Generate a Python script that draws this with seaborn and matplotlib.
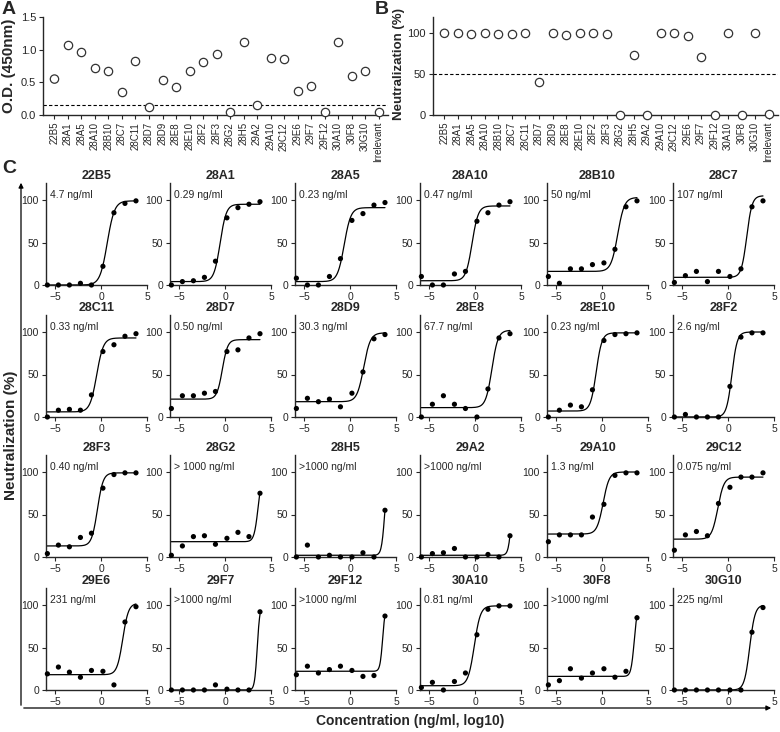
import numpy as np
import pandas as pd
import matplotlib
matplotlib.use('Agg')
import matplotlib.pyplot as plt
from matplotlib.patches import FancyArrowPatch
import seaborn as sns

sns.set_style('ticks')
plt.rcParams['font.family'] = ['Liberation Sans', 'DejaVu Sans']

# panel A / B : screening of all clones
clones = ['22B5', '28A1', '28A5', '28A10', '28B10', '28C7', '28C11', '28D7', '28D9',
          '28E8', '28E10', '28F2', '28F3', '28G2', '28H5', '29A2', '29A10', '29C12',
          '29E6', '29F7', '29F12', '30A10', '30F8', '30G10', 'Irrelevant']
od_values = [0.55, 1.07, 0.97, 0.72, 0.68, 0.35, 0.82, 0.12, 0.54, 0.43, 0.67, 0.81,
             0.94, 0.04, 1.12, 0.16, 0.87, 0.86, 0.36, 0.45, 0.05, 1.11, 0.60, 0.68, 0.04]
neut_values = [100, 100, 99, 100, 99, 99, 100, 41, 100, 98, 100, 100, 99, 0, 73, 0,
               100, 100, 97, 71, 0, 100, 0, 100, 1]
od_cutoff = 0.15
neut_cutoff = 50

# panel C : dose response, log10 concentration
conc_log = [-5.85, -4.65, -3.45, -2.25, -1.05, 0.2, 1.4, 2.6, 3.8]
n22B5 = [0, 0, 0, 2, 0, 22, 85, 96, 99]
n28A1 = [0, 4, 5, 9, 28, 79, 91, 95, 98]
n28A5 = [8, 0, 0, 10, 31, 76, 84, 94, 97]
n28A10 = [10, 0, 0, 13, 16, 75, 85, 94, 98]
n28B10 = [10, 2, 19, 19, 24, 26, 42, 92, 99]
n28C7 = [3, 11, 16, 4, 16, 10, 19, 92, 99]
n28C11 = [0, 8, 9, 8, 26, 77, 85, 95, 98]
n28D7 = [10, 25, 25, 28, 30, 77, 79, 93, 98]
n28D9 = [10, 22, 18, 21, 12, 28, 53, 92, 97]
n28E8 = [0, 15, 25, 15, 10, 0, 33, 93, 98]
n28E10 = [0, 8, 14, 12, 32, 90, 97, 98, 99]
n28F2 = [0, 3, 0, 0, 0, 36, 94, 99, 99]
n28F3 = [4, 14, 12, 23, 28, 81, 97, 99, 99]
n28G2 = [2, 13, 24, 25, 15, 22, 29, 24, 75]
n28H5 = [0, 14, 0, 2, 0, 0, 5, 0, 55]
n29A2 = [0, 4, 5, 10, 0, 0, 3, 0, 25]
n29A10 = [18, 26, 26, 26, 47, 62, 96, 99, 99]
n29C12 = [8, 26, 30, 25, 63, 82, 94, 94, 99]
n29E6 = [19, 27, 21, 15, 23, 22, 6, 80, 98]
n29F7 = [0, 0, 0, 0, 6, 1, 0, 0, 92]
n29F12 = [18, 28, 20, 24, 28, 23, 16, 17, 87]
n30A10 = [3, 9, 0, 10, 20, 65, 95, 99, 99]
n30F8 = [6, 11, 25, 14, 20, 25, 15, 22, 85]
n30G10 = [0, 0, 0, 0, 0, 0, 0, 68, 97]

ec50_labels = ['4.7 ng/ml', '0.29 ng/ml', '0.23 ng/ml', '0.47 ng/ml', '50 ng/ml', '107 ng/ml',
               '0.33 ng/ml', '0.50 ng/ml', '30.3 ng/ml', '67.7 ng/ml', '0.23 ng/ml', '2.6 ng/ml',
               '0.40 ng/ml', '> 1000 ng/ml', '>1000 ng/ml', '>1000 ng/ml', '1.3 ng/ml', '0.075 ng/ml',
               '231 ng/ml', '>1000 ng/ml', '>1000 ng/ml', '0.81 ng/ml', '>1000 ng/ml', '225 ng/ml']

# 4PL fit parameters
fit_bottom = [0, 4, 4, 5, 16, 9, 6, 21, 18, 11, 7, 0, 13, 18, 2, 2, 27, 21, 18, 0, 22, 5, 16, 0]
fit_top = [99, 95, 91, 93, 103, 105, 93, 91, 99, 102, 99, 100, 99, 100, 100, 100, 100, 94,
           102, 100, 100, 99, 100, 100]
fit_logec50 = [0.67, -0.54, -0.64, -0.33, 1.70, 2.03, -0.48, -0.30, 1.48, 1.83, -0.64, 0.41,
               -0.40, 3.6, 3.77, 4.0, 0.11, -1.12, 2.36, 3.5, 3.55, -0.09, 3.5, 2.35]
fit_hill = [1.1, 1.3, 1.2, 1.3, 1.2, 1.5, 1.2, 1.5, 1.2, 1.3, 1.4, 1.5, 1.4, 2.0, 2.5, 2.5,
            1.3, 1.3, 1.4, 3.0, 3.0, 1.3, 2.5, 1.5]

points = [n22B5, n28A1, n28A5, n28A10, n28B10, n28C7, n28C11, n28D7, n28D9, n28E8, n28E10,
          n28F2, n28F3, n28G2, n28H5, n29A2, n29A10, n29C12, n29E6, n29F7, n29F12, n30A10,
          n30F8, n30G10]

W, H = 780, 732
fig = plt.figure(figsize=(W / 100, H / 100), dpi=100)


def px_axes(left, top, width, height):
    return fig.add_axes([left / W, 1 - (top + height) / H, width / W, height / H])


def screen_panel(ax, values, cutoff, ylim, yticks, ticklabels):
    df = pd.DataFrame({'clone': clones, 'value': values})
    sns.stripplot(data=df, x='clone', y='value', jitter=False, ax=ax, color='white',
                  edgecolor='#333333', linewidth=0.9, size=6, clip_on=False, zorder=3)
    ax.collections[0].set_facecolor('none')
    ax.axhline(cutoff, ls=(0, (3, 2)), color='black', lw=0.8)
    ax.set_xlim(-0.85, 24.7)
    ax.set_ylim(*ylim)
    ax.set_yticks(yticks)
    ax.set_yticklabels(ticklabels)
    ax.set_xlabel('')
    ax.set_ylabel('')
    ax.tick_params(axis='x', rotation=90, labelsize=7, length=3, width=0.8, pad=2)
    ax.tick_params(axis='y', labelsize=8, length=3, width=0.8, pad=2)
    for s in ['left', 'bottom']:
        ax.spines[s].set_linewidth(1.0)
    sns.despine(ax=ax)


ax_a = px_axes(43, 17, 345, 98)
screen_panel(ax_a, od_values, od_cutoff, (0, 1.5), [0, 0.5, 1.0, 1.5],
             ['0.0', '0.5', '1.0', '1.5'])
ax_b = px_axes(433, 17, 345, 98)
screen_panel(ax_b, neut_values, neut_cutoff, (0, 120), [0, 50, 100], ['0', '50', '100'])

fig.text(2 / W, 1 - 1 / H, 'A', fontsize=14, fontweight='bold', va='top', ha='left')
fig.text(375 / W, 1 - 1 / H, 'B', fontsize=14, fontweight='bold', va='top', ha='left')
fig.text(2 / W, 1 - 160 / H, 'C', fontsize=14, fontweight='bold', va='top', ha='left')
fig.text(9 / W, 1 - 66 / H, 'O.D. (450nm)', fontsize=11, fontweight='bold',
         rotation=90, ha='center', va='center')
fig.text(399 / W, 1 - 64 / H, 'Neutralization (%)', fontsize=9.5, fontweight='bold',
         rotation=90, ha='center', va='center')

# panel C grid
col_left = [46, 170, 295, 420, 547, 673]
row_top = [183, 315, 455, 588]
curve_x = np.linspace(-6, 3.8, 200)

for i, clone in enumerate(clones[:24]):
    r, c = divmod(i, 6)
    ax = px_axes(col_left[c], row_top[r], 101, 102)
    b, t, ec, h = fit_bottom[i], fit_top[i], fit_logec50[i], fit_hill[i]
    curve_y = b + (t - b) / (1 + 10 ** ((ec - curve_x) * h))
    sns.lineplot(x=curve_x, y=curve_y, ax=ax, color='black', lw=0.9)
    sns.scatterplot(x=conc_log, y=points[i], ax=ax, color='black', s=14,
                    edgecolor='none', clip_on=False, zorder=3)
    ax.set_xlim(-6, 5)
    ax.set_ylim(0, 120)
    ax.set_xticks([-5, 0, 5])
    ax.set_yticks([0, 50, 100])
    ax.set_title(clone, fontsize=9, fontweight='bold', pad=3)
    ax.text(-5.6, 106, ec50_labels[i], fontsize=7.5, ha='left', va='center')
    ax.tick_params(labelsize=7.5, length=3, width=0.8, pad=2)
    for s in ['left', 'bottom']:
        ax.spines[s].set_linewidth(1.0)
    sns.despine(ax=ax)

# outer frame with arrows
fig.add_artist(FancyArrowPatch((21 / W, 1 - 708 / H), (21 / W, 1 - 180 / H),
                               transform=fig.transFigure, arrowstyle='-|>',
                               mutation_scale=7, lw=0.9, color='black'))
fig.add_artist(FancyArrowPatch((21 / W, 1 - 708 / H), (774 / W, 1 - 708 / H),
                               transform=fig.transFigure, arrowstyle='-|>',
                               mutation_scale=7, lw=0.9, color='black'))
fig.text(11 / W, 1 - 435 / H, 'Neutralization (%)', fontsize=11, fontweight='bold',
         rotation=90, ha='center', va='center')
fig.text(410 / W, 1 - 721 / H, 'Concentration (ng/ml, log10)', fontsize=10,
         fontweight='bold', ha='center', va='center')

fig.savefig('out.png', dpi=100)
